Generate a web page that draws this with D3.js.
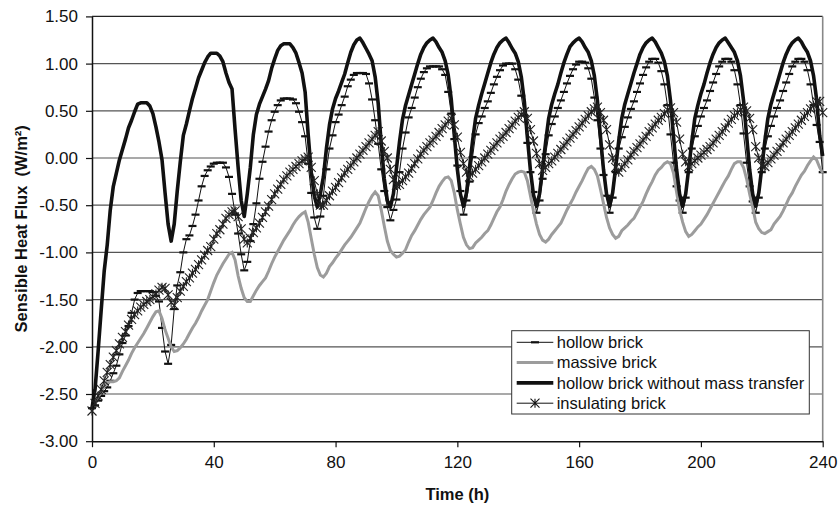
<!DOCTYPE html>
<html>
<head>
<meta charset="utf-8">
<script src="https://cdn.jsdelivr.net/npm/d3@7"></script>
<style>
  body { margin: 0; background: #fff; }
  svg { display: block; font-family: "Liberation Sans", Arial, sans-serif; }
</style>
</head>
<body>
<div id="chart"></div>
<script>
// hourly samples, t = 0 .. 240 h
const hours = d3.range(0, 241);

const hollowBrick = [
  -2.65, -2.62, -2.57, -2.52, -2.47, -2.43, -2.36, -2.28, -2.20, -2.08, -1.96, -1.88,
  -1.78, -1.64, -1.50, -1.43, -1.41, -1.41, -1.41, -1.41, -1.42, -1.46, -1.52, -1.80,
  -2.05, -2.18, -1.98, -1.60, -1.35, -1.21, -1.00, -0.86, -0.82, -0.72, -0.60, -0.45,
  -0.30, -0.19, -0.13, -0.09, -0.06, -0.05, -0.05, -0.05, -0.10, -0.20, -0.38, -0.60,
  -0.80, -1.02, -1.19, -1.10, -0.88, -0.70, -0.48, -0.22, -0.04, 0.12, 0.28, 0.40,
  0.49, 0.56, 0.61, 0.63, 0.63, 0.63, 0.62, 0.58, 0.49, 0.38, 0.23, -0.06,
  -0.37, -0.63, -0.75, -0.62, -0.40, -0.12, 0.10, 0.24, 0.38, 0.46, 0.56, 0.65,
  0.76, 0.83, 0.88, 0.90, 0.90, 0.90, 0.89, 0.79, 0.62, 0.40, 0.15, -0.12,
  -0.35, -0.52, -0.66, -0.55, -0.44, -0.15, 0.10, 0.27, 0.43, 0.53, 0.64, 0.75,
  0.84, 0.91, 0.95, 0.97, 0.97, 0.97, 0.97, 0.94, 0.88, 0.70, 0.47, 0.20,
  -0.08, -0.35, -0.60, -0.45, -0.25, 0.01, 0.25, 0.37, 0.44, 0.53, 0.60, 0.69,
  0.78, 0.86, 0.93, 0.98, 1.00, 1.00, 1.00, 0.94, 0.83, 0.66, 0.45, 0.16,
  -0.15, -0.36, -0.58, -0.45, -0.22, 0.04, 0.24, 0.36, 0.44, 0.53, 0.61, 0.70,
  0.79, 0.87, 0.94, 0.99, 1.02, 1.02, 1.01, 0.95, 0.84, 0.64, 0.40, 0.10,
  -0.18, -0.40, -0.58, -0.42, -0.15, 0.10, 0.22, 0.33, 0.43, 0.52, 0.60, 0.70,
  0.79, 0.88, 0.96, 1.02, 1.05, 1.05, 1.01, 0.92, 0.78, 0.56, 0.25, -0.05,
  -0.30, -0.45, -0.58, -0.42, -0.15, 0.10, 0.23, 0.34, 0.44, 0.53, 0.61, 0.71,
  0.80, 0.89, 0.97, 1.02, 1.05, 1.05, 1.02, 0.93, 0.78, 0.56, 0.26, -0.05,
  -0.30, -0.46, -0.58, -0.42, -0.15, 0.10, 0.23, 0.34, 0.44, 0.53, 0.61, 0.71,
  0.80, 0.89, 0.97, 1.02, 1.05, 1.05, 1.02, 0.93, 0.78, 0.56, 0.35, 0.17,
  -0.15
];

const massiveBrick = [
  -2.62, -2.58, -2.53, -2.48, -2.42, -2.38, -2.37, -2.37, -2.36, -2.33, -2.26, -2.20,
  -2.14, -2.07, -2.01, -1.96, -1.91, -1.86, -1.80, -1.74, -1.68, -1.63, -1.62, -1.70,
  -1.82, -1.91, -2.00, -2.05, -2.04, -2.01, -1.97, -1.92, -1.86, -1.80, -1.75, -1.69,
  -1.62, -1.56, -1.50, -1.41, -1.32, -1.24, -1.18, -1.12, -1.07, -1.02, -1.00, -1.08,
  -1.25, -1.38, -1.48, -1.52, -1.52, -1.46, -1.40, -1.35, -1.31, -1.27, -1.20, -1.12,
  -1.05, -0.99, -0.93, -0.87, -0.82, -0.77, -0.71, -0.66, -0.62, -0.59, -0.57, -0.68,
  -0.85, -1.02, -1.16, -1.24, -1.26, -1.22, -1.15, -1.11, -1.06, -1.02, -0.97, -0.92,
  -0.88, -0.84, -0.79, -0.74, -0.69, -0.61, -0.53, -0.46, -0.40, -0.36, -0.40, -0.55,
  -0.72, -0.88, -0.98, -1.02, -1.05, -1.04, -1.01, -0.97, -0.89, -0.82, -0.77, -0.71,
  -0.65, -0.60, -0.56, -0.52, -0.45, -0.37, -0.30, -0.25, -0.21, -0.20, -0.24, -0.37,
  -0.55, -0.70, -0.84, -0.92, -0.96, -0.95, -0.90, -0.87, -0.84, -0.80, -0.77, -0.71,
  -0.64, -0.57, -0.52, -0.44, -0.35, -0.28, -0.22, -0.17, -0.15, -0.14, -0.15, -0.24,
  -0.40, -0.56, -0.70, -0.81, -0.87, -0.89, -0.86, -0.81, -0.77, -0.73, -0.69, -0.62,
  -0.55, -0.49, -0.43, -0.36, -0.30, -0.24, -0.17, -0.11, -0.09, -0.12, -0.19, -0.33,
  -0.48, -0.63, -0.74, -0.81, -0.85, -0.83, -0.77, -0.74, -0.71, -0.67, -0.64, -0.58,
  -0.52, -0.46, -0.38, -0.31, -0.25, -0.18, -0.13, -0.10, -0.06, -0.04, -0.06, -0.16,
  -0.36, -0.55, -0.68, -0.78, -0.83, -0.81, -0.77, -0.73, -0.70, -0.65, -0.60, -0.54,
  -0.48, -0.42, -0.36, -0.30, -0.24, -0.19, -0.12, -0.06, -0.04, -0.04, -0.10, -0.22,
  -0.38, -0.52, -0.68, -0.75, -0.79, -0.80, -0.78, -0.76, -0.70, -0.66, -0.62, -0.56,
  -0.49, -0.42, -0.37, -0.30, -0.24, -0.18, -0.14, -0.08, -0.03, 0.01, -0.02, -0.10,
  -0.16
];

const hollowNoMass = [
  -2.65, -2.45, -2.05, -1.62, -1.20, -0.92, -0.55, -0.30, -0.16, -0.02, 0.09, 0.20,
  0.32, 0.40, 0.49, 0.57, 0.585, 0.585, 0.585, 0.55, 0.47, 0.33, 0.17, -0.02,
  -0.37, -0.70, -0.88, -0.70, -0.35, -0.04, 0.24, 0.36, 0.50, 0.63, 0.74, 0.85,
  0.93, 1.01, 1.07, 1.11, 1.11, 1.11, 1.08, 1.02, 0.90, 0.80, 0.73, 0.30,
  -0.10, -0.45, -0.62, -0.38, -0.10, 0.25, 0.46, 0.57, 0.65, 0.73, 0.82, 0.95,
  1.05, 1.14, 1.19, 1.21, 1.21, 1.21, 1.17, 1.11, 1.01, 0.90, 0.70, 0.25,
  -0.15, -0.40, -0.52, -0.38, -0.20, 0.10, 0.35, 0.52, 0.63, 0.71, 0.80, 0.89,
  1.01, 1.12, 1.20, 1.25, 1.27, 1.22, 1.16, 1.10, 1.03, 0.86, 0.58, 0.15,
  -0.22, -0.45, -0.52, -0.38, -0.11, 0.17, 0.41, 0.56, 0.67, 0.78, 0.89, 1.00,
  1.10, 1.17, 1.22, 1.25, 1.27, 1.23, 1.17, 1.12, 1.03, 0.88, 0.62, 0.24,
  -0.12, -0.38, -0.51, -0.37, -0.10, 0.18, 0.42, 0.56, 0.68, 0.79, 0.90, 1.01,
  1.10, 1.17, 1.22, 1.25, 1.27, 1.22, 1.16, 1.11, 1.02, 0.86, 0.60, 0.22,
  -0.13, -0.39, -0.51, -0.38, -0.11, 0.17, 0.42, 0.57, 0.68, 0.78, 0.90, 1.01,
  1.10, 1.18, 1.22, 1.25, 1.27, 1.23, 1.17, 1.12, 1.03, 0.87, 0.61, 0.23,
  -0.12, -0.38, -0.51, -0.37, -0.10, 0.18, 0.42, 0.57, 0.68, 0.79, 0.90, 1.00,
  1.10, 1.17, 1.22, 1.25, 1.27, 1.23, 1.17, 1.11, 1.02, 0.87, 0.61, 0.23,
  -0.12, -0.38, -0.51, -0.38, -0.11, 0.17, 0.42, 0.56, 0.68, 0.78, 0.90, 1.01,
  1.10, 1.17, 1.22, 1.25, 1.27, 1.22, 1.17, 1.12, 1.03, 0.87, 0.61, 0.24,
  -0.12, -0.38, -0.51, -0.37, -0.10, 0.18, 0.42, 0.57, 0.68, 0.79, 0.90, 1.01,
  1.10, 1.17, 1.22, 1.25, 1.27, 1.23, 1.17, 1.12, 1.03, 0.87, 0.62, 0.24,
  0.02
];

const insulatingBrick = [
  -2.68, -2.60, -2.52, -2.45, -2.36, -2.27, -2.19, -2.11, -2.04, -1.97, -1.90, -1.84,
  -1.77, -1.71, -1.66, -1.62, -1.58, -1.55, -1.52, -1.50, -1.47, -1.44, -1.40, -1.37,
  -1.38, -1.45, -1.53, -1.56, -1.48, -1.41, -1.36, -1.31, -1.27, -1.22, -1.18, -1.13,
  -1.08, -1.03, -0.98, -0.94, -0.86, -0.80, -0.76, -0.70, -0.64, -0.60, -0.57, -0.56,
  -0.62, -0.75, -0.86, -0.90, -0.85, -0.79, -0.74, -0.69, -0.63, -0.57, -0.51, -0.44,
  -0.38, -0.33, -0.28, -0.23, -0.19, -0.15, -0.12, -0.09, -0.06, -0.03, -0.01, 0.01,
  -0.10, -0.24, -0.38, -0.50, -0.50, -0.45, -0.40, -0.35, -0.31, -0.26, -0.21, -0.16,
  -0.12, -0.08, -0.04, 0.00, 0.04, 0.08, 0.12, 0.16, 0.20, 0.24, 0.28, 0.18,
  0.07, 0.00, -0.12, -0.23, -0.29, -0.28, -0.24, -0.20, -0.16, -0.11, -0.06, -0.01,
  0.04, 0.08, 0.12, 0.16, 0.19, 0.23, 0.27, 0.31, 0.35, 0.39, 0.42, 0.35,
  0.22, 0.06, -0.06, -0.15, -0.20, -0.16, -0.12, -0.08, -0.04, 0.00, 0.04, 0.08,
  0.12, 0.16, 0.20, 0.23, 0.27, 0.31, 0.35, 0.39, 0.43, 0.46, 0.49, 0.42,
  0.30, 0.18, 0.05, -0.06, -0.13, -0.10, -0.06, -0.03, 0.01, 0.05, 0.09, 0.13,
  0.17, 0.21, 0.25, 0.29, 0.33, 0.37, 0.41, 0.45, 0.49, 0.52, 0.54, 0.48,
  0.40, 0.30, 0.14, 0.00, -0.10, -0.15, -0.10, -0.06, -0.02, 0.03, 0.07, 0.11,
  0.15, 0.19, 0.23, 0.28, 0.32, 0.36, 0.40, 0.43, 0.47, 0.51, 0.53, 0.48,
  0.38, 0.20, 0.04, -0.04, -0.09, -0.06, -0.03, 0.00, 0.03, 0.06, 0.09, 0.12,
  0.16, 0.20, 0.24, 0.28, 0.32, 0.37, 0.41, 0.45, 0.48, 0.51, 0.54, 0.50,
  0.42, 0.30, 0.12, 0.00, -0.08, -0.09, -0.05, -0.01, 0.03, 0.07, 0.11, 0.16,
  0.20, 0.24, 0.28, 0.32, 0.36, 0.40, 0.44, 0.48, 0.52, 0.56, 0.60, 0.60,
  0.48
];

const xTicks = [0, 40, 80, 120, 160, 200, 240];
const yTicks = [-3, -2.5, -2, -1.5, -1, -0.5, 0, 0.5, 1, 1.5];
const yTickLabels = ["-3.00", "-2.50", "-2.00", "-1.50", "-1.00", "-0.50", "0.00", "0.50", "1.00", "1.50"];
const seriesNames = ["hollow brick", "massive brick", "hollow brick without mass transfer", "insulating brick"];

const width = 839, height = 512;
const plotL = 92, plotR = 822.7, plotT = 16.4, plotB = 441.2;

const svg = d3.select("#chart").append("svg").attr("width", width).attr("height", height);
svg.append("rect").attr("width", width).attr("height", height).attr("fill", "#fff");

const x = d3.scaleLinear().domain([0, 240]).range([plotL, plotR]);
const y = d3.scaleLinear().domain([-3, 1.5]).range([plotB, plotT]);

// grid
svg.append("g").selectAll("line").data(yTicks.filter(d => d > -3 && d < 1.5)).join("line")
  .attr("x1", plotL).attr("x2", plotR).attr("y1", d => y(d)).attr("y2", d => y(d))
  .attr("stroke", "#555").attr("stroke-width", 1.2);
svg.append("line").attr("x1", plotL).attr("x2", plotR).attr("y1", y(1.5)).attr("y2", y(1.5))
  .attr("stroke", "#222").attr("stroke-width", 1.2);
svg.append("line").attr("x1", plotR).attr("x2", plotR).attr("y1", plotT).attr("y2", plotB)
  .attr("stroke", "#888").attr("stroke-width", 1.6);

// axes
const yAxis = svg.append("g").attr("transform", `translate(${plotL},0)`)
  .call(d3.axisLeft(y).tickValues(yTicks).tickFormat((d, i) => yTickLabels[i]).tickSize(6).tickPadding(8).tickSizeOuter(0));
const xAxis = svg.append("g").attr("transform", `translate(0,${plotB})`)
  .call(d3.axisBottom(x).tickValues(xTicks).tickFormat(d => d).tickSize(6).tickPadding(9).tickSizeOuter(0));
[xAxis, yAxis].forEach(a => {
  a.select(".domain").attr("stroke", "#111").attr("stroke-width", 1.5);
  a.selectAll(".tick line").attr("stroke", "#111").attr("stroke-width", 1.2);
  a.selectAll(".tick text").attr("fill", "#111").style("font-size", "17px");
});

// series
const line = d3.line().x((d, i) => x(hours[i])).y(d => y(d));
const plot = svg.append("g");

const dash = "M-4,0H4";
plot.append("path").datum(hollowBrick).attr("d", line)
  .attr("fill", "none").attr("stroke", "#111").attr("stroke-width", 1);
plot.append("g").selectAll("path").data(hollowBrick).join("path")
  .attr("transform", (d, i) => `translate(${x(hours[i])},${y(d)})`)
  .attr("d", dash).attr("stroke", "#111").attr("stroke-width", 2.2);

plot.append("path").datum(massiveBrick).attr("d", line)
  .attr("fill", "none").attr("stroke", "#9c9c9c").attr("stroke-width", 3);

plot.append("path").datum(hollowNoMass).attr("d", line)
  .attr("fill", "none").attr("stroke", "#111").attr("stroke-width", 3.6).attr("stroke-linejoin", "round");

const star = "M-4.5,-4.5L4.5,4.5M-4.5,4.5L4.5,-4.5M0,-4.5V4.5";
plot.append("path").datum(insulatingBrick).attr("d", line)
  .attr("fill", "none").attr("stroke", "#111").attr("stroke-width", 1);
plot.append("g").selectAll("path").data(insulatingBrick).join("path")
  .attr("transform", (d, i) => `translate(${x(hours[i])},${y(d)})`)
  .attr("d", star).attr("fill", "none").attr("stroke", "#222").attr("stroke-width", 1.1);

// legend
const lg = svg.append("g").attr("transform", "translate(511.7,330.7)");
lg.append("rect").attr("width", 297.6).attr("height", 83.3).attr("fill", "#fff").attr("stroke", "#333").attr("stroke-width", 1);
const styles = [
  { color: "#111", w: 1, marker: dash, mw: 2.2 },
  { color: "#9c9c9c", w: 3 },
  { color: "#111", w: 3.6 },
  { color: "#111", w: 1, marker: star, mw: 1.1 }
];
seriesNames.forEach((name, i) => {
  const row = lg.append("g").attr("transform", `translate(0,${11.6 + i * 20.3})`);
  row.append("line").attr("x1", 5).attr("x2", 41.6).attr("stroke", styles[i].color).attr("stroke-width", styles[i].w);
  if (styles[i].marker) {
    row.append("path").attr("transform", "translate(23.3,0)").attr("d", styles[i].marker)
      .attr("fill", "none").attr("stroke", "#111").attr("stroke-width", styles[i].mw);
  }
  row.append("text").attr("x", 45).attr("dy", "0.35em").style("font-size", "16.5px").attr("fill", "#111").text(name);
});

// titles
svg.append("text").attr("x", (plotL + plotR) / 2).attr("y", 500).attr("text-anchor", "middle")
  .style("font-size", "16.5px").style("font-weight", "bold").attr("fill", "#111").text("Time (h)");
svg.append("text").attr("transform", `translate(27,${(plotT + plotB) / 2}) rotate(-90)`).attr("text-anchor", "middle")
  .style("font-size", "16.5px").style("font-weight", "bold").style("white-space", "pre").attr("fill", "#111")
  .text("Sensible Heat Flux  (W/m²)");
</script>
</body>
</html>
